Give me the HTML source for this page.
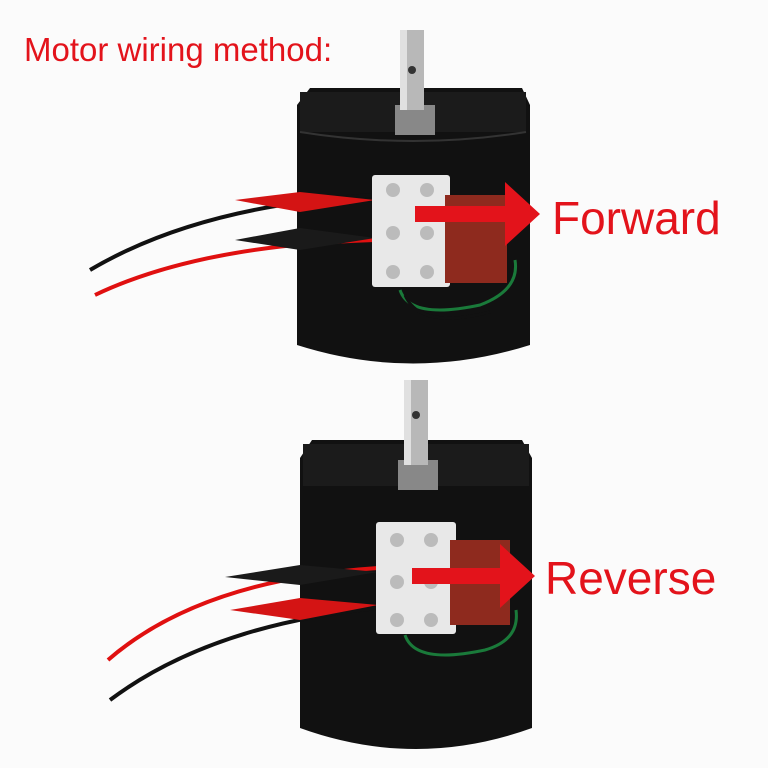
<!DOCTYPE html>
<html><head><meta charset="utf-8"><style>
html,body{margin:0;padding:0;background:#fff;}
svg{display:block}
</style></head><body>
<svg width="768" height="768" viewBox="0 0 768 768" xmlns="http://www.w3.org/2000/svg">
<rect width="768" height="768" fill="#fbfbfb"/>
<text x="24" y="61" font-family="Liberation Sans, sans-serif" font-size="33" fill="#e3131b">Motor wiring method:</text>

<!-- TOP MOTOR -->
<g>
  <path d="M297 105 L310 88 L522 88 L530 105 L530 345 Q413 382 297 345 Z" fill="#111"/>
  <rect x="300" y="92" width="226" height="40" fill="#1b1b1b"/>
  <path d="M300 132 Q413 150 526 132" stroke="#333" stroke-width="2" fill="none"/>
  <rect x="395" y="105" width="40" height="30" fill="#888"/>
  <rect x="400" y="30" width="24" height="80" fill="#b8b8b8"/>
  <rect x="400" y="30" width="7" height="80" fill="#e0e0e0"/>
  <circle cx="412" cy="70" r="4" fill="#333"/>
  <path d="M90 270 Q200 205 375 195" stroke="#111" stroke-width="4" fill="none"/>
  <path d="M95 295 Q200 245 375 240" stroke="#e01010" stroke-width="4" fill="none"/>
  <path d="M235 200 L300 192 L375 200 L300 212 Z" fill="#d41414"/>
  <path d="M235 240 L300 228 L375 238 L300 250 Z" fill="#1a1a1a"/>
  <path d="M400 290 Q410 320 480 305 Q520 290 515 260" stroke="#1a7a3a" stroke-width="3" fill="none"/>
  <path d="M405 295 Q420 330 490 312" stroke="#111" stroke-width="3" fill="none"/>
  <rect x="372" y="175" width="78" height="112" fill="#e8e8e8" rx="3"/>
  <g fill="#bbb"><circle cx="393" cy="190" r="7"/><circle cx="427" cy="190" r="7"/><circle cx="393" cy="233" r="7"/><circle cx="427" cy="233" r="7"/><circle cx="393" cy="272" r="7"/><circle cx="427" cy="272" r="7"/></g>
  <rect x="445" y="195" width="62" height="88" fill="#8e2a1e"/>
  <rect x="415" y="206" width="95" height="16" fill="#e3131b"/>
  <polygon points="505,182 540,214 505,246" fill="#e3131b"/>
  <text x="552" y="234" font-family="Liberation Sans, sans-serif" font-size="46" fill="#e3131b">Forward</text>
</g>

<!-- BOTTOM MOTOR -->
<g>
  <path d="M300 458 L312 440 L522 440 L532 458 L532 728 Q416 770 300 728 Z" fill="#111"/>
  <rect x="303" y="444" width="226" height="42" fill="#1b1b1b"/>
  <rect x="398" y="460" width="40" height="30" fill="#888"/>
  <rect x="404" y="380" width="24" height="85" fill="#b8b8b8"/>
  <rect x="404" y="380" width="7" height="85" fill="#e0e0e0"/>
  <circle cx="416" cy="415" r="4" fill="#333"/>
  <path d="M108 660 Q200 580 378 568" stroke="#e01010" stroke-width="4" fill="none"/>
  <path d="M110 700 Q210 625 378 608" stroke="#111" stroke-width="4" fill="none"/>
  <path d="M225 577 L300 565 L378 572 L300 585 Z" fill="#1a1a1a"/>
  <path d="M230 610 L300 598 L378 605 L300 620 Z" fill="#d41414"/>
  <path d="M405 635 Q415 665 485 650 Q520 640 516 610" stroke="#1a7a3a" stroke-width="3" fill="none"/>
  <rect x="376" y="522" width="80" height="112" fill="#e8e8e8" rx="3"/>
  <g fill="#bbb"><circle cx="397" cy="540" r="7"/><circle cx="431" cy="540" r="7"/><circle cx="397" cy="582" r="7"/><circle cx="431" cy="582" r="7"/><circle cx="397" cy="620" r="7"/><circle cx="431" cy="620" r="7"/></g>
  <rect x="450" y="540" width="60" height="85" fill="#8e2a1e"/>
  <rect x="412" y="568" width="93" height="16" fill="#e3131b"/>
  <polygon points="500,544 535,576 500,608" fill="#e3131b"/>
  <text x="545" y="594" font-family="Liberation Sans, sans-serif" font-size="46" fill="#e3131b">Reverse</text>
</g>
</svg>
</body></html>
